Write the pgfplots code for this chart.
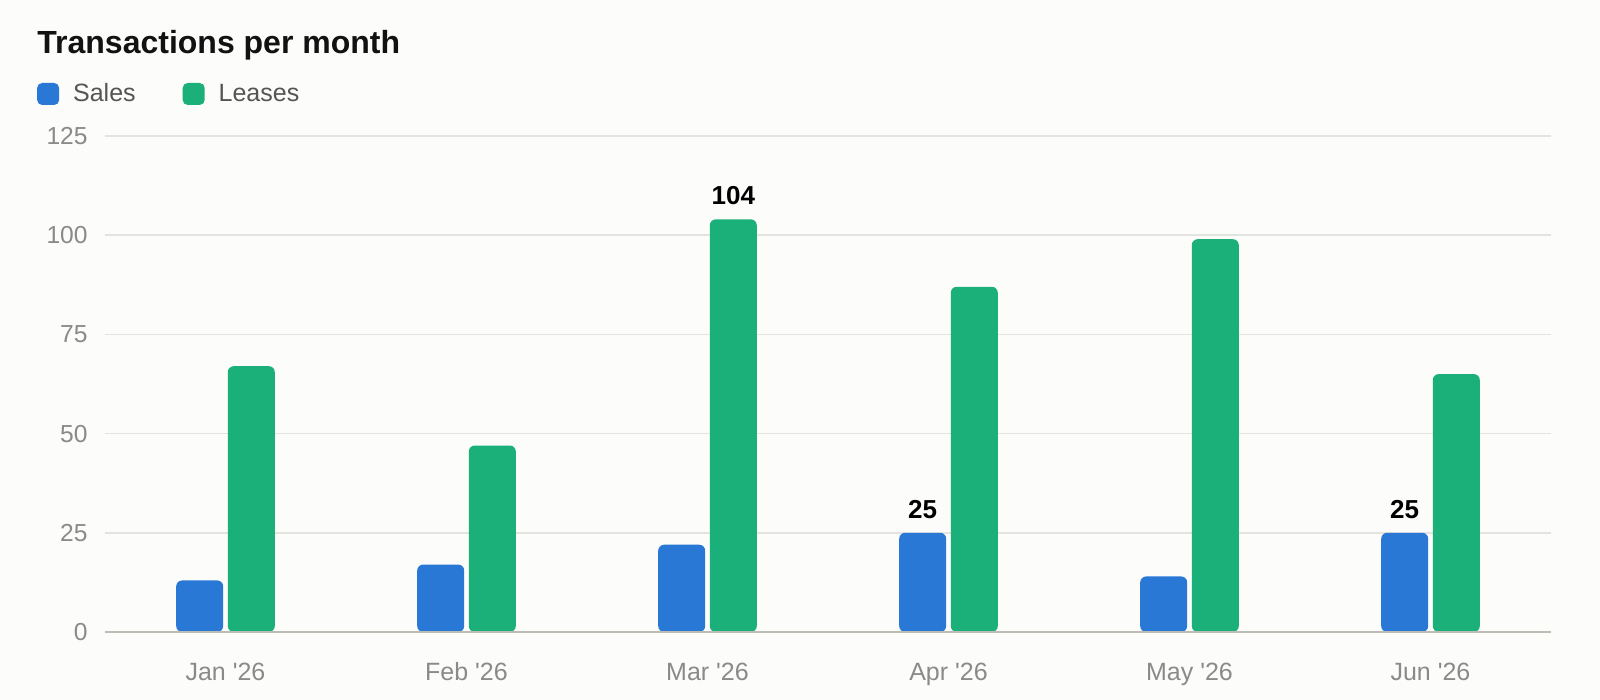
\documentclass[border=0pt]{standalone}
\usepackage{pgfplots}
\pgfplotsset{compat=1.18}
\usepackage{fontspec}
\setmainfont{Liberation Sans}
\definecolor{bg}{HTML}{FCFCFB}
\definecolor{salesblue}{HTML}{2978D6}
\definecolor{leasegreen}{HTML}{1BB07A}
\definecolor{gridc}{HTML}{E3E3DF}
\definecolor{basec}{HTML}{BDBDB5}
\definecolor{tickc}{HTML}{8A8A8A}
\definecolor{legc}{HTML}{555555}
\newcommand{\q}{\textquotesingle}
\begin{document}
\begin{tikzpicture}
\fill[bg] (0,0) rectangle (800pt,350pt);
\path[use as bounding box] (0,0) rectangle (800pt,350pt);
\node[anchor=base west, inner sep=0pt, font=\fontsize{16}{19}\selectfont\bfseries, text=black!93] at (18.5pt,323pt) {Transactions per month};
\begin{axis}[
  at={(52.5pt,34pt)}, anchor=south west,
  scale only axis, width=723pt, height=248pt,
  xmin=-0.5, xmax=5.5, ymin=0, ymax=125,
  ybar, bar width=23.5pt,
  axis x line*=bottom, axis y line*=left,
  x axis line style={basec, line width=0.75pt},
  y axis line style={draw=none},
  ymajorgrids, grid style={gridc, line width=0.75pt},
  ytick={0,25,50,75,100,125},
  xtick={0,1,2,3,4,5},
  xticklabels={Jan \q26,Feb \q26,Mar \q26,Apr \q26,May \q26,Jun \q26},
  major tick length=0pt,
  /pgf/number format/assume math mode=true,
  yticklabel style={font=\fontsize{12.3}{14}\selectfont, text=tickc, inner sep=0pt, anchor=east, xshift=-8.5pt},
  xticklabel style={font=\fontsize{12.5}{14}\selectfont, text=tickc, inner sep=0pt, anchor=base, yshift=-24.5pt},
  clip=false,
  point meta=explicit symbolic,
  nodes near coords,
  every node near coord/.append style={font=\fontsize{13}{15}\selectfont\bfseries, text=black, inner sep=0pt, anchor=south, yshift=6.9pt},
  legend columns=2,
  legend style={at={(axis description cs:-0.0472,1.0847)}, anchor=west, draw=none, fill=none, inner sep=0pt, font=\fontsize{12.5}{14}\selectfont, text=legc,
    nodes={inner sep=0pt},
    /tikz/every odd column/.append style={column sep=7pt},
    /tikz/every even column/.append style={column sep=23.5pt}},
  legend image code/.code={\fill[#1, rounded corners=2.5pt] (0pt,-5.5pt) rectangle (11pt,5.5pt);},
]
\addplot[fill=salesblue, draw=none, bar shift=-12.9pt, rounded corners=3pt] coordinates {
  (0,13) [] (1,17) [] (2,22) [] (3,25) [25] (4,14) [] (5,25) [25]};
\addlegendentry{Sales}
\addplot[fill=leasegreen, draw=none, bar shift=12.9pt, rounded corners=3pt] coordinates {
  (0,67) [] (1,47) [] (2,104) [104] (3,87) [] (4,99) [] (5,65) []};
\addlegendentry{Leases}
\draw[basec, line width=0.75pt] (axis cs:-0.5,0) -- (axis cs:5.5,0);
\end{axis}
\end{tikzpicture}
\end{document}
